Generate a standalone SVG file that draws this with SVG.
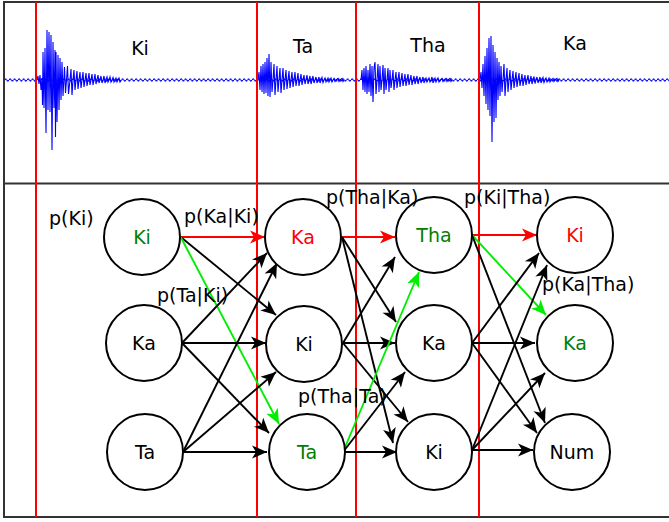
<svg xmlns="http://www.w3.org/2000/svg" width="669" height="522" viewBox="0 0 669 522">
<style>
text { font-family: "DejaVu Sans", "Liberation Sans", sans-serif; font-size: 19px; fill: #000; }
.nt { text-anchor: middle; }
.g { fill: #008000; }
.r { fill: #ff0000; }
circle { fill: #fff; stroke: #000; stroke-width: 2; }
.frame { stroke: #333; stroke-width: 2; fill: none; }
.seg { stroke: #ff0000; stroke-width: 2; }
.wave { stroke: #0000ff; stroke-width: 1.1; fill: none; stroke-linejoin: miter; }
.e { stroke: #000; stroke-width: 1.9; marker-end: url(#ab); }
.er { stroke: #ff0000; stroke-width: 1.9; marker-end: url(#ar); }
.eg { stroke: #00ee00; stroke-width: 1.9; marker-end: url(#ag); }
</style>
<defs>
<marker id="ab" markerUnits="userSpaceOnUse" markerWidth="18" markerHeight="16" viewBox="-16 -8 18 16" refX="0" refY="0" orient="auto">
<path d="M0,0 L-15,-6.5 L-11,0 L-15,6.5 Z" fill="#000"/>
</marker>
<marker id="ar" markerUnits="userSpaceOnUse" markerWidth="18" markerHeight="16" viewBox="-16 -8 18 16" refX="0" refY="0" orient="auto">
<path d="M0,0 L-15,-6.5 L-11,0 L-15,6.5 Z" fill="#ff0000"/>
</marker>
<marker id="ag" markerUnits="userSpaceOnUse" markerWidth="18" markerHeight="16" viewBox="-16 -8 18 16" refX="0" refY="0" orient="auto">
<path d="M0,0 L-15,-6.5 L-11,0 L-15,6.5 Z" fill="#00ee00"/>
</marker>
<pattern id="rip" patternUnits="userSpaceOnUse" x="0" y="76" width="4.5" height="8">
<polyline points="0,4 1.1,2.8 2.25,4 3.4,5.2 4.5,4" fill="none" stroke="#0000ff" stroke-width="1"/>
</pattern>
</defs>

<g id="waveform">
<rect x="5" y="76" width="664" height="8" fill="url(#rip)"/>
<polyline class="wave" points="37,80 38,76 39,84 40,75 41,90 42,78 42.5,105 43,52 44,108 45,48 46,133 47,30 48,110 49,32 50,112 51,35 52,150 53,42 54,108 55,50 55.5,137 56,52 57,122 58,55 59,110 60,58 61,100 62,62 63,96 64.5,67 65.5,93 66.5,80 67.5,66 68.5,94 70,80 71,69 72,95 73,80 74,70 75,90 76,80 77,71 78,89 79,80 80,72 81,88 82,80 83,72 84,87 85,80 86,73 87,86 88,80 89,73 90,85 91,80 92,74 93,85 94,80 95,74 96,84 97,80 98,75 99,83 100,80 101,76 102,83 103,80 104,76 105,83 106,80 107,77 108,82 109,80 110,77 111,82 112,80 113,77.5 114,82 115,80 116,78 117,82 118,80 119,78 120,82 121,80"/>
<polyline class="wave" points="258,80 259,72 260,90 261,66 262,92 263,64 264,94 265,62 266,93 267,58 268,96 269,54 270,97 271,62 272,92 273,80 274,64 275,95 276,80 277,66 278,92 279,80 280,68 281,93 282,80 283,68 284,90 285,80 286,70 287,89 288,80 289,71 290,88 291,80 292,72 293,87 294,80 295,72 296,86 297,80 298,73 299,86 300,80 301,74 302,85 303,80 304,75 305,84 306,80 307,75 308,84 309,80 310,76 311,84 312,80 313,76 314,83 315,80 316,77 317,83 318,80 319,77 320,83 321,80 322,77.5 323,82.5 324,80 325,78 326,82 327,80 328,78 329,82 330,80 331,78 332,82 333,80 334,78.5 335,81.5 336,80 338,78.5 339,81.5 340,80 342,78.5 343,81.5 344,80"/>
<polyline class="wave" points="361,80 362,70 363,90 364,68 365,92 366,66 367,94 368,70 369,92 370,64 371,96 372,66 373,102 374,68 375,62 376,94 377,80 378,64 379,92 380,66 381,90 382,80 383,65 384,94 385,68 386,90 387,80 388,68 389,92 390,70 391,88 392,80 393,70 394,90 395,80 396,72 397,88 398,80 399,72 400,87 401,80 402,73 403,86 404,80 405,74 406,86 407,80 408,74 409,85 410,80 411,75 412,85 413,80 414,76 415,84 416,80 417,76 418,84 419,80 420,77 421,83 422,80 423,77 424,83 425,80 426,78 427,82 428,80 429,78 430,82 431,80 432,77 433,83 434,80 435,78 436,82 437,80 438,78 439,82 440,80 442,78.5 443,81.5 444,80 446,78.5 447,81.5 448,80 450,78.5 451,81.5 452,80"/>
<polyline class="wave" points="480,80 481,72 482,88 483,64 484,96 485,56 486,104 487,48 488,110 489,38 490,116 491,36 492,142 493,45 494,122 495,52 496,118 497,58 498,100 499,62 500,96 501,66 502,92 503,80 504,64 505,96 506,80 507,68 508,92 509,80 510,70 511,90 512,80 513,71 514,88 515,80 516,72 517,87 518,80 519,73 520,86 521,80 522,74 523,86 524,80 525,75 526,85 527,80 528,75 529,84 530,80 531,76 532,84 533,80 534,76.5 535,83.5 536,80 537,77 538,83 539,80 540,77 541,83 542,80 543,77.5 544,82.5 545,80 546,78 547,82 548,80 549,78 550,82 551,80 553,78.5 554,81.5 555,80 557,78.5 558,81.5 559,80"/>
</g>

<g id="frame">
<path class="frame" d="M669,2 H4 V517 H669 M4,183.5 H669"/>
</g>

<g id="segment-lines">
<line class="seg" x1="36" y1="2" x2="36" y2="517"/>
<line class="seg" x1="257" y1="2" x2="257" y2="517"/>
<line class="seg" x1="356" y1="2" x2="356" y2="517"/>
<line class="seg" x1="479" y1="2" x2="479" y2="517"/>
</g>

<g id="segment-labels">
<text class="nt" x="140" y="55">Ki</text>
<text class="nt" x="303" y="53">Ta</text>
<text class="nt" x="428" y="52">Tha</text>
<text class="nt" x="575" y="50">Ka</text>
</g>

<g id="connectors">
<line class="er" x1="180.7" y1="237" x2="265" y2="237"/>
<line class="e" x1="180.7" y1="237" x2="276" y2="315"/>
<line class="eg" x1="180.7" y1="237" x2="279" y2="424"/>
<line class="e" x1="182" y1="343" x2="267" y2="253"/>
<line class="e" x1="182" y1="343" x2="266" y2="343"/>
<line class="e" x1="182" y1="343" x2="269" y2="433"/>
<line class="e" x1="183" y1="452" x2="277" y2="263"/>
<line class="e" x1="183" y1="452" x2="276" y2="372"/>
<line class="e" x1="183" y1="452" x2="267" y2="452"/>

<line class="er" x1="342" y1="237" x2="395" y2="237"/>
<line class="e" x1="342" y1="237" x2="396" y2="322"/>
<line class="e" x1="342" y1="237" x2="393" y2="443"/>
<line class="e" x1="343" y1="343" x2="395" y2="257"/>
<line class="e" x1="343" y1="343" x2="395" y2="343"/>
<line class="e" x1="343" y1="343" x2="408" y2="422"/>
<line class="eg" x1="343" y1="452" x2="419" y2="272"/>
<line class="e" x1="343" y1="452" x2="405" y2="372"/>
<line class="e" x1="343" y1="452" x2="397" y2="452"/>

<line class="er" x1="472" y1="235" x2="537" y2="235"/>
<line class="eg" x1="472" y1="235" x2="546" y2="315"/>
<line class="e" x1="472" y1="235" x2="545" y2="423"/>
<line class="e" x1="472" y1="343" x2="539" y2="253"/>
<line class="e" x1="472" y1="343" x2="535" y2="343"/>
<line class="e" x1="472" y1="343" x2="537" y2="433"/>
<line class="e" x1="472" y1="450" x2="547" y2="265"/>
<line class="e" x1="472" y1="450" x2="545" y2="373"/>
<line class="e" x1="472" y1="450" x2="533" y2="450"/>
</g>

<g id="node-c1-ki"><circle cx="142" cy="237" r="38"/><text class="nt g" x="142" y="244">Ki</text></g>
<g id="node-c1-ka"><circle cx="144" cy="343" r="38"/><text class="nt" x="144" y="350">Ka</text></g>
<g id="node-c1-ta"><circle cx="145" cy="452" r="38"/><text class="nt" x="145" y="459">Ta</text></g>

<g id="node-c2-ka"><circle cx="303" cy="237" r="38"/><text class="nt r" x="303" y="244">Ka</text></g>
<g id="node-c2-ki"><circle cx="304" cy="344" r="38"/><text class="nt" x="304" y="351">Ki</text></g>
<g id="node-c2-ta"><circle cx="307" cy="452" r="38"/><text class="nt g" x="307" y="459">Ta</text></g>

<g id="node-c3-tha"><circle cx="434" cy="235" r="38"/><text class="nt g" x="434" y="242">Tha</text></g>
<g id="node-c3-ka"><circle cx="434" cy="343" r="38"/><text class="nt" x="434" y="350">Ka</text></g>
<g id="node-c3-ki"><circle cx="434" cy="452" r="38"/><text class="nt" x="434" y="459">Ki</text></g>

<g id="node-c4-ki"><circle cx="575" cy="235" r="38"/><text class="nt r" x="575" y="242">Ki</text></g>
<g id="node-c4-ka"><circle cx="575" cy="343" r="38"/><text class="nt g" x="575" y="350">Ka</text></g>
<g id="node-c4-num"><circle cx="572" cy="452" r="38"/><text class="nt" x="572" y="459">Num</text></g>

<g id="edge-labels">
<text x="49" y="225">p(Ki)</text>
<text x="184" y="223">p(Ka|Ki)</text>
<text x="157" y="302">p(Ta|Ki)</text>
<text x="326" y="204">p(Tha|Ka)</text>
<text x="464" y="204">p(Ki|Tha)</text>
<text x="542" y="291">p(Ka|Tha)</text>
<text x="298" y="403">p(Tha|Ta)</text>
</g>
</svg>
